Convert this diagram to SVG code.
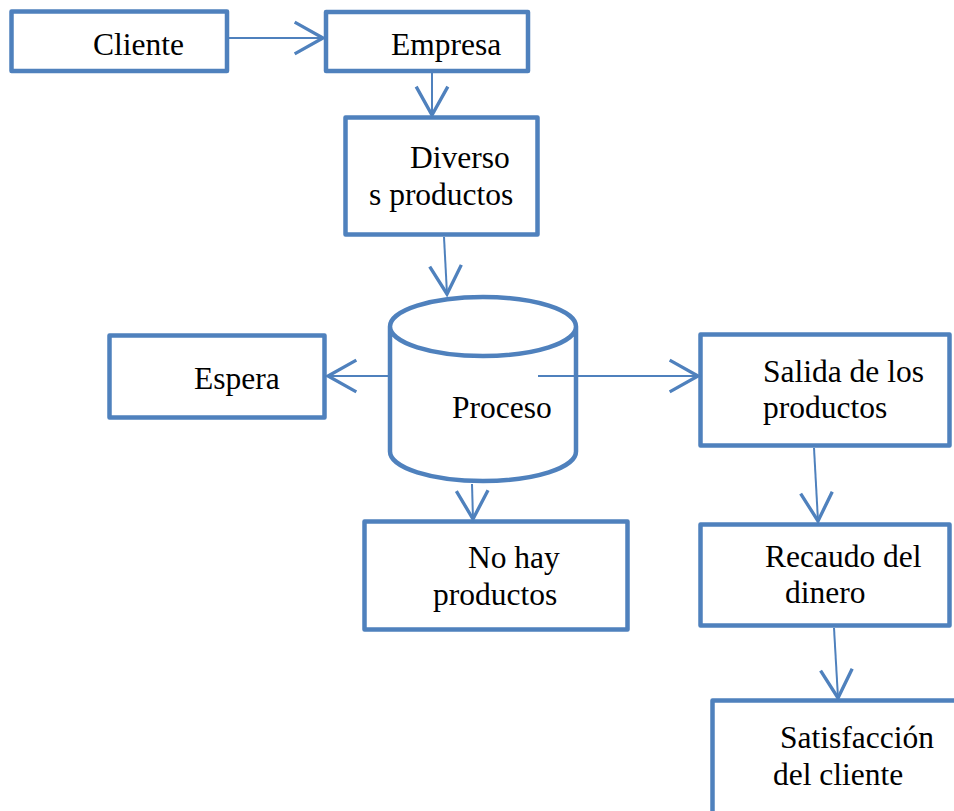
<svg xmlns="http://www.w3.org/2000/svg" width="954" height="811" viewBox="0 0 954 811">
<style>
.box{fill:#fff;stroke:#4F81BD;stroke-width:4.5;stroke-linejoin:round}
.conn{fill:none;stroke:#4F81BD;stroke-width:2}
text{font-family:"Liberation Serif","Times New Roman",serif;font-size:31.5px;fill:#000}
</style>
<defs>
<marker id="arr" markerUnits="userSpaceOnUse" markerWidth="40" markerHeight="40" viewBox="-20 -12 24 24" refX="0" refY="0" orient="auto" overflow="visible">
<path d="M-17,-9.5 L0,0 L-17,9.5" fill="none" stroke="#4F81BD" stroke-width="2"/>
</marker>
</defs>
<rect width="954" height="811" fill="#fff"/>
<g id="cliente"><rect class="box" x="11.5" y="11.5" width="215.5" height="59.5"/><text x="93" y="55">Cliente</text></g>
<g id="empresa"><rect class="box" x="326" y="12" width="202" height="59"/><text x="391" y="55">Empresa</text></g>
<g id="diversos"><rect class="box" x="345.5" y="117.5" width="192" height="117"/><text x="410" y="168">Diverso</text><text x="369" y="205">s productos</text></g>
<g id="proceso"><path class="box" d="M390,326.5 L390,451.5 A93,29.5 0 0 0 576,451.5 L576,326.5 A93,29.5 0 0 0 390,326.5 A93,29.5 0 0 0 576,326.5"/><text x="452" y="418">Proceso</text></g>
<g id="espera"><rect class="box" x="109.5" y="335.5" width="215" height="82"/><text x="194" y="389">Espera</text></g>
<g id="salida"><rect class="box" x="700.5" y="334.5" width="249" height="111"/><text x="763" y="382">Salida de los</text><text x="763" y="418">productos</text></g>
<g id="nohay"><rect class="box" x="364.5" y="521.5" width="263" height="108"/><text x="468" y="568">No hay</text><text x="433" y="605">productos</text></g>
<g id="recaudo"><rect class="box" x="700.5" y="524.5" width="249" height="101"/><text x="765" y="567">Recaudo del</text><text x="785" y="603">dinero</text></g>
<g id="satisfaccion"><rect class="box" x="712.5" y="700.5" width="260" height="150"/><text x="780" y="748">Satisfacción</text><text x="773" y="785">del cliente</text></g>
<g id="connectors">
<line class="conn" x1="229" y1="38" x2="323" y2="38" marker-end="url(#arr)"/>
<line class="conn" x1="432" y1="73" x2="432" y2="115" marker-end="url(#arr)"/>
<line class="conn" x1="444" y1="237" x2="447" y2="294" marker-end="url(#arr)"/>
<line class="conn" x1="388" y1="376" x2="328" y2="376" marker-end="url(#arr)"/>
<line class="conn" x1="538" y1="376" x2="698" y2="376" marker-end="url(#arr)"/>
<line class="conn" x1="472" y1="484" x2="473" y2="519" marker-end="url(#arr)"/>
<line class="conn" x1="814" y1="448" x2="818" y2="521" marker-end="url(#arr)"/>
<line class="conn" x1="834" y1="628" x2="838" y2="698" marker-end="url(#arr)"/>
</g>
</svg>
